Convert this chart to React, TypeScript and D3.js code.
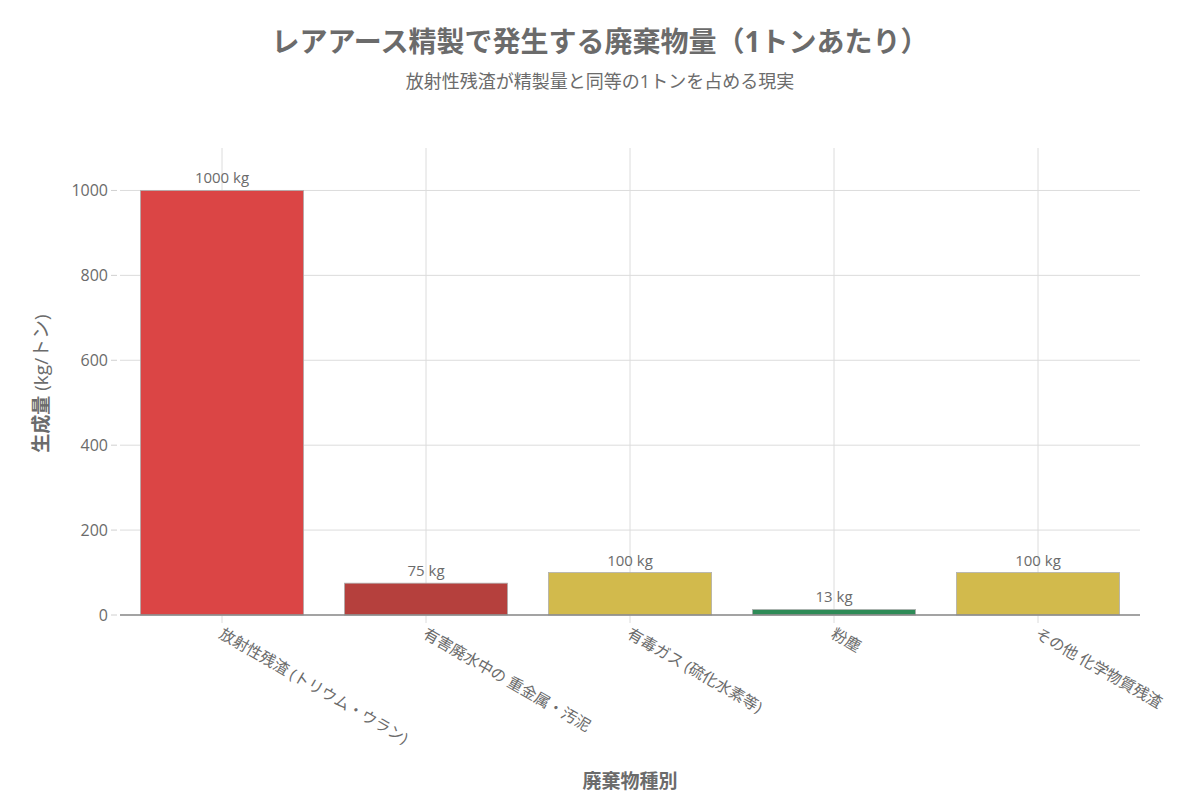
import React from "react";
import * as d3 from "d3";

const categories = [
  "放射性残渣 (トリウム・ウラン)",
  "有害廃水中の 重金属・汚泥",
  "有毒ガス (硫化水素等)",
  "粉塵",
  "その他 化学物質残渣",
];
const values = [1000, 75, 100, 13, 100];
const valueLabels = ["1000 kg", "75 kg", "100 kg", "13 kg", "100 kg"];
const barColors = ["#DB4545", "#B5403D", "#D2BA4C", "#2E8B57", "#D2BA4C"];
const yTicks = [0, 200, 400, 600, 800, 1000];

const W = 1200;
const H = 800;
const margin = { left: 120, right: 60, top: 148, bottom: 185 };
const FONT = "'Open Sans', 'Noto Sans CJK JP', sans-serif";
const TXT = "#6b6b6b";

export default function App() {
  const x = d3
    .scaleBand<string>()
    .domain(categories)
    .range([margin.left, W - margin.right])
    .paddingInner(0.2)
    .paddingOuter(0.1);
  const y = d3.scaleLinear().domain([0, 1100]).range([H - margin.bottom, margin.top]);
  const y0 = y(0);

  return (
    <svg width={W} height={H} style={{ position: "absolute", left: 0, top: 0, background: "#fff" }} fontFamily={FONT}>
      <rect x={0} y={0} width={W} height={H} fill="#fff" />
      {yTicks.map((t) => (
        <line key={"gy" + t} x1={margin.left} x2={W - margin.right} y1={y(t)} y2={y(t)} stroke="#dcdcdc" strokeWidth={1} />
      ))}
      {categories.map((c) => {
        const cx = (x(c) as number) + x.bandwidth() / 2;
        return <line key={"gx" + c} x1={cx} x2={cx} y1={margin.top} y2={y0 + 8} stroke="#dcdcdc" strokeWidth={1} />;
      })}
      {yTicks.map((t) => (
        <g key={"yt" + t}>
          <line x1={margin.left - 9} x2={margin.left - 3} y1={y(t)} y2={y(t)} stroke="#d0d0d0" />
          <text x={margin.left - 12} y={y(t)} dy="0.35em" textAnchor="end" fontSize={16} fill={TXT}>
            {t}
          </text>
        </g>
      ))}
      {categories.map((c, i) => (
        <rect
          key={"b" + c}
          x={x(c)}
          y={y(values[i])}
          width={x.bandwidth()}
          height={y0 - y(values[i])}
          fill={barColors[i]}
          stroke="#b0b0b0"
          strokeWidth={0.8}
        />
      ))}
      {categories.map((c, i) => (
        <text
          key={"v" + c}
          x={(x(c) as number) + x.bandwidth() / 2}
          y={y(values[i]) - 7}
          textAnchor="middle"
          fontSize={15}
          fill={TXT}
        >
          {valueLabels[i]}
        </text>
      ))}
      <line x1={margin.left} x2={W - margin.right} y1={y0} y2={y0} stroke="#8a8a8a" strokeWidth={1.5} />
      {categories.map((c) => {
        const cx = (x(c) as number) + x.bandwidth() / 2;
        return (
          <text
            key={"xl" + c}
            transform={`translate(${cx - 4},${y0 + 22}) rotate(30)`}
            textAnchor="start"
            fontSize={15.5}
            fill={TXT}
          >
            {c}
          </text>
        );
      })}
      <text x={600} y={52} textAnchor="middle" fontSize={28} fontWeight="bold" fill={TXT}>
        レアアース精製で発生する廃棄物量（1トンあたり）
      </text>
      <text x={600} y={88} textAnchor="middle" fontSize={18} fill={TXT}>
        放射性残渣が精製量と同等の1トンを占める現実
      </text>
      <text
        transform={`translate(48,${(margin.top + y0) / 2 + 2}) rotate(-90)`}
        textAnchor="middle"
        fontSize={19}
        fill={TXT}
      >
        <tspan fontWeight="bold">生成量</tspan> (kg/トン)
      </text>
      <text x={630} y={788} textAnchor="middle" fontSize={19} fontWeight="bold" fill={TXT}>
        廃棄物種別
      </text>
    </svg>
  );
}
